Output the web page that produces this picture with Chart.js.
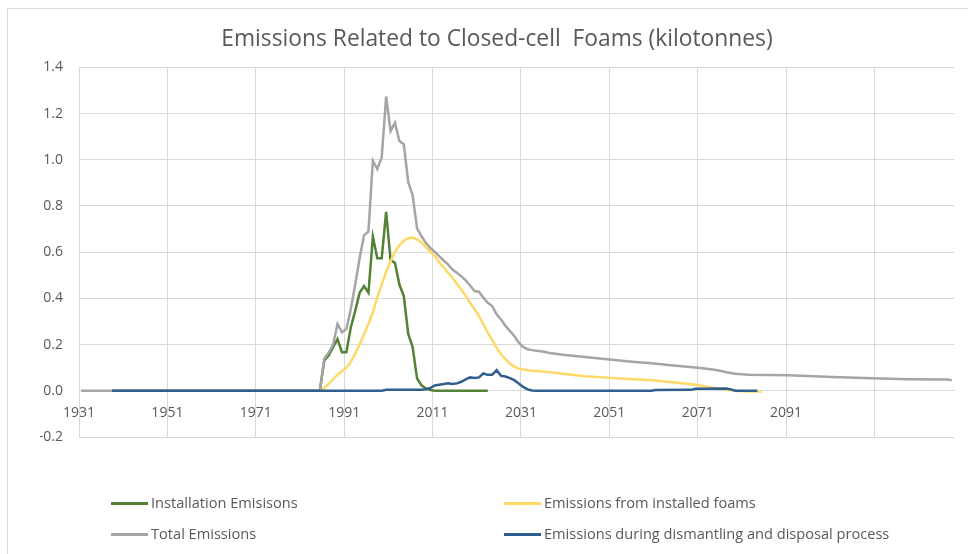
<!DOCTYPE html>
<html>
<head>
<meta charset="utf-8">
<script src="https://cdn.jsdelivr.net/npm/chart.js@4.4.1/dist/chart.umd.min.js"></script>
<style>
  html, body { margin: 0; padding: 0; background: #fff; }
  #wrap { position: relative; width: 968px; height: 554px; overflow: hidden; }
  #frame { position: absolute; left: 7px; top: 8px; width: 980px; height: 560px;
           border-top: 1px solid #d9d9d9; border-left: 1px solid #d9d9d9; }
  #legend { position: absolute; left: 0; top: 0; width: 968px; height: 554px; pointer-events: none;
            font-family: 'Open Sans', sans-serif; font-size: 14.6px; color: #595959; }
  .item { position: absolute; white-space: nowrap; line-height: 18px; }
  .item i { display: inline-block; width: 37px; height: 3px; vertical-align: middle; margin-right: 3px; position: relative; top: -1px; }
</style>
</head>
<body>
<div id="wrap">
  <div id="frame"></div>
  <canvas id="myChart"></canvas>
  <div id="legend"></div>
</div>
<script>
// x axis ticks (years), labels only up to 2091
const tickYears = [1931, 1951, 1971, 1991, 2011, 2031, 2051, 2071, 2091, 2111];
const lastLabelYear = 2091;

// Installation Emisisons
const installYears = [1938, 1985, 1986, 1987, 1988, 1989, 1990, 1991, 1992, 1993, 1994, 1995, 1996, 1997, 1998, 1999,
  2000, 2001, 2002, 2003, 2004, 2005, 2006, 2007, 2008, 2009, 2010, 2011, 2023];
const installValues = [0, 0, 0.131, 0.153, 0.189, 0.224, 0.167, 0.167, 0.274, 0.346, 0.424, 0.453, 0.424, 0.667, 0.574, 0.574,
  0.774, 0.567, 0.553, 0.46, 0.41, 0.246, 0.189, 0.053, 0.024, 0.01, 0.003, 0, 0];

// Emissions from installed foams
const foamYears = [1938, 1985, 1986, 1987, 1988, 1989, 1990, 1991, 1992, 1993, 1994, 1995, 1996, 1997, 1998, 1999,
  2000, 2001, 2002, 2003, 2004, 2005, 2006, 2007, 2008, 2009, 2010, 2011, 2012, 2013, 2014, 2015, 2016, 2017, 2018, 2019,
  2020, 2021, 2022, 2023, 2024, 2025, 2026, 2027, 2028, 2029, 2030, 2031, 2032, 2034, 2036, 2040, 2045, 2050, 2055, 2060,
  2065, 2070, 2073, 2076, 2079, 2082, 2085];
const foamValues = [0, 0, 0.012, 0.03, 0.05, 0.07, 0.085, 0.1, 0.125, 0.16, 0.2, 0.245, 0.29, 0.34, 0.405, 0.46,
  0.515, 0.56, 0.6, 0.63, 0.65, 0.66, 0.663, 0.655, 0.642, 0.622, 0.601, 0.583, 0.557, 0.535, 0.511, 0.489, 0.463, 0.439, 0.41, 0.381,
  0.353, 0.324, 0.288, 0.252, 0.22, 0.187, 0.158, 0.137, 0.118, 0.105, 0.096, 0.092, 0.089, 0.086, 0.083, 0.074, 0.063, 0.057, 0.051, 0.046,
  0.037, 0.026, 0.017, 0.007, 0, -0.003, -0.003];

// Total Emissions
const totalYears = [1931, 1985, 1986, 1987, 1988, 1989, 1990, 1991, 1992, 1993, 1994, 1995, 1996, 1997, 1998, 1999,
  2000, 2001, 2002, 2003, 2004, 2005, 2006, 2007, 2008, 2009, 2010, 2011, 2012, 2013, 2014, 2015, 2016, 2017, 2018, 2019,
  2020, 2021, 2022, 2023, 2024, 2025, 2026, 2027, 2028, 2029, 2030, 2031, 2032, 2033, 2034, 2035, 2036, 2037, 2040, 2045,
  2050, 2055, 2060, 2065, 2070, 2073, 2075, 2077, 2079, 2082, 2091, 2101, 2110, 2118, 2127, 2128];
const totalValues = [0, 0, 0.139, 0.165, 0.2, 0.289, 0.253, 0.267, 0.353, 0.46, 0.574, 0.674, 0.689, 0.996, 0.96, 1.01,
  1.274, 1.124, 1.16, 1.081, 1.067, 0.903, 0.846, 0.703, 0.669, 0.64, 0.619, 0.601, 0.583, 0.564, 0.547, 0.525, 0.511, 0.496, 0.478, 0.456,
  0.432, 0.429, 0.403, 0.381, 0.367, 0.331, 0.309, 0.281, 0.259, 0.237, 0.209, 0.19, 0.18, 0.176, 0.173, 0.171, 0.168, 0.164, 0.156, 0.146,
  0.137, 0.127, 0.119, 0.11, 0.101, 0.094, 0.089, 0.08, 0.074, 0.069, 0.067, 0.06, 0.054, 0.05, 0.049, 0.046];

// Emissions during dismantling and disposal process
const disposalYears = [1938, 1999, 2000, 2007, 2008, 2009, 2010, 2011, 2012, 2013, 2014, 2015, 2016, 2017, 2018, 2019,
  2020, 2021, 2022, 2023, 2024, 2025, 2026, 2027, 2028, 2029, 2030, 2031, 2032, 2033, 2034, 2060, 2061, 2069, 2070, 2077,
  2078, 2079, 2084];
const disposalValues = [0, 0, 0.004, 0.004, 0.005, 0.007, 0.012, 0.023, 0.026, 0.029, 0.033, 0.029, 0.032, 0.039, 0.049, 0.058,
  0.055, 0.058, 0.075, 0.069, 0.069, 0.089, 0.065, 0.062, 0.055, 0.046, 0.032, 0.017, 0.006, 0.001, 0, 0, 0.003, 0.004, 0.009, 0.01,
  0.006, 0, 0];

const seriesNames = ['Installation Emisisons', 'Emissions from installed foams', 'Total Emissions',
  'Emissions during dismantling and disposal process'];
const seriesColors = ['#548235', '#FFD966', '#A5A5A5', '#2F5F8F'];

function pts(xs, ys) {
  return xs.map((x, i) => ({ x: x, y: ys[i] }));
}

const textColor = '#595959';
const gridColor = '#d9d9d9';
const fontFamily = "'Open Sans', sans-serif";

let ctx = document.getElementById('myChart').getContext('2d');
let chart = new Chart(ctx, {
  type: 'line',
  data: {
    datasets: [
      { label: seriesNames[0], data: pts(installYears, installValues), borderColor: seriesColors[0], order: 3 },
      { label: seriesNames[1], data: pts(foamYears, foamValues), borderColor: seriesColors[1], order: 2 },
      { label: seriesNames[2], data: pts(totalYears, totalValues), borderColor: seriesColors[2], order: 1 },
      { label: seriesNames[3], data: pts(disposalYears, disposalValues), borderColor: seriesColors[3], order: 0 }
    ]
  },
  options: {
    responsive: true,
    maintainAspectRatio: false,
    animation: false,
    datasets: {
      line: { borderWidth: 2.5, pointRadius: 0, tension: 0, fill: false }
    },
    // left padding shifts the centred title to the right, like the original
    layout: { padding: { left: 40, right: 14, top: 0, bottom: 117 } },
    plugins: {
      legend: { display: false },
      tooltip: { enabled: false },
      title: {
        display: true,
        text: 'Emissions Related to Closed-cell  Foams (kilotonnes)',
        color: textColor,
        font: { family: fontFamily, size: 22.8, weight: 'normal' },
        padding: { top: 26, bottom: 14 }
      }
    },
    scales: {
      x: {
        type: 'linear',
        position: { y: 0 },
        min: 1930.5,
        max: 2128.5,
        afterBuildTicks: (scale) => {
          scale.ticks = tickYears.map(y => ({ value: y - 0.5 }));
        },
        grid: { color: gridColor, lineWidth: 1, drawTicks: false },
        border: { color: gridColor },
        ticks: {
          color: textColor,
          font: { family: fontFamily, size: 14 },
          padding: 14,
          autoSkip: false,
          maxRotation: 0,
          callback: (value) => {
            const yr = Math.round(value + 0.5);
            return yr <= lastLabelYear ? String(yr) : '';
          }
        }
      },
      y: {
        min: -0.2,
        max: 1.4,
        afterFit: (scale) => { scale.width = 39; },
        grid: { color: gridColor, lineWidth: 1, drawTicks: false },
        border: { color: gridColor },
        ticks: {
          stepSize: 0.2,
          color: textColor,
          font: { family: fontFamily, size: 14 },
          padding: 16,
          callback: (value) => (Math.abs(value) < 1e-9 ? 0 : value).toFixed(1)
        }
      }
    }
  }
});

// legend: two columns under the plot
const legendPos = [[111, 493], [504, 493], [111, 524], [504, 524]];
const legendBox = document.getElementById('legend');
seriesNames.forEach((name, i) => {
  const el = document.createElement('div');
  el.className = 'item';
  el.style.left = legendPos[i][0] + 'px';
  el.style.top = legendPos[i][1] + 'px';
  const line = document.createElement('i');
  line.style.background = seriesColors[i];
  el.appendChild(line);
  el.appendChild(document.createTextNode(name));
  legendBox.appendChild(el);
});
</script>
</body>
</html>
